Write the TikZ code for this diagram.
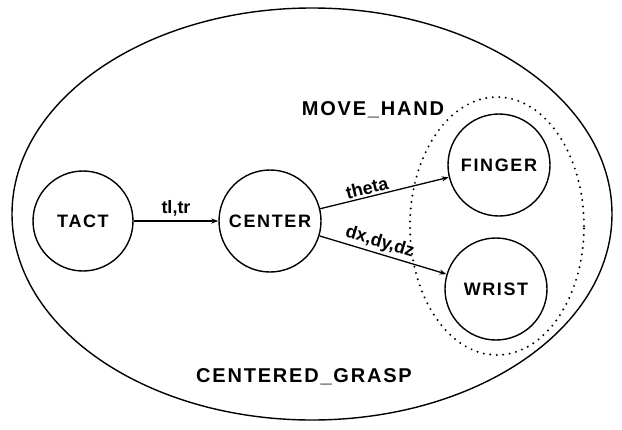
\documentclass[tikz,border=0pt]{standalone}
\usepackage{fontspec}
\setmainfont{Liberation Sans}
\newfontfamily\spacedfont[LetterSpace=9]{Liberation Sans}
\usetikzlibrary{arrows.meta,shapes.geometric}
\begin{document}
\begin{tikzpicture}[x=1pt,y=-1pt,
  state/.style={circle,draw,line width=1.4pt,minimum size=102pt,inner sep=0pt,font=\spacedfont\fontsize{18}{20}\selectfont\bfseries},
  lbl/.style={font=\fontsize{18}{20}\selectfont\bfseries,inner sep=1pt},
  big/.style={font=\spacedfont\fontsize{20}{22}\selectfont\bfseries,inner sep=1pt},
  arr/.style={line width=1.3pt,-{Stealth[length=7pt,width=5pt]}}]
\useasboundingbox (0,0) rectangle (622,429);
\node[ellipse,draw,line width=1.4pt,minimum width=600pt,minimum height=412pt,inner sep=0pt] (outer) at (312,214) {};
\node[ellipse,draw,line width=2.2pt,line cap=round,dash pattern=on 0pt off 6.5pt,minimum width=174pt,minimum height=258pt,inner sep=0pt] (hand) at (497,226) {};
\node[state,minimum size=100pt] (tact) at (83,221) {TACT};
\node[state] (center) at (270,221) {CENTER};
\node[state] (finger) at (499,165) {FINGER};
\node[state] (wrist) at (496,289) {WRIST};
\draw[arr] (tact) -- (center) node[lbl,midway,above=3pt] (l1) {tl,tr};
\draw[arr] (center) -- (finger) node[lbl,pos=0.38,above=1pt,sloped] (l2) {theta};
\draw[arr] (center) -- (wrist) node[lbl,pos=0.45,above=1pt,sloped] (l3) {dx,dy,dz};
\node[big] (mh) at (373,110) {MOVE\_HAND};
\node[big] (cg) at (304,377) {CENTERED\_GRASP};
\end{tikzpicture}
\end{document}
